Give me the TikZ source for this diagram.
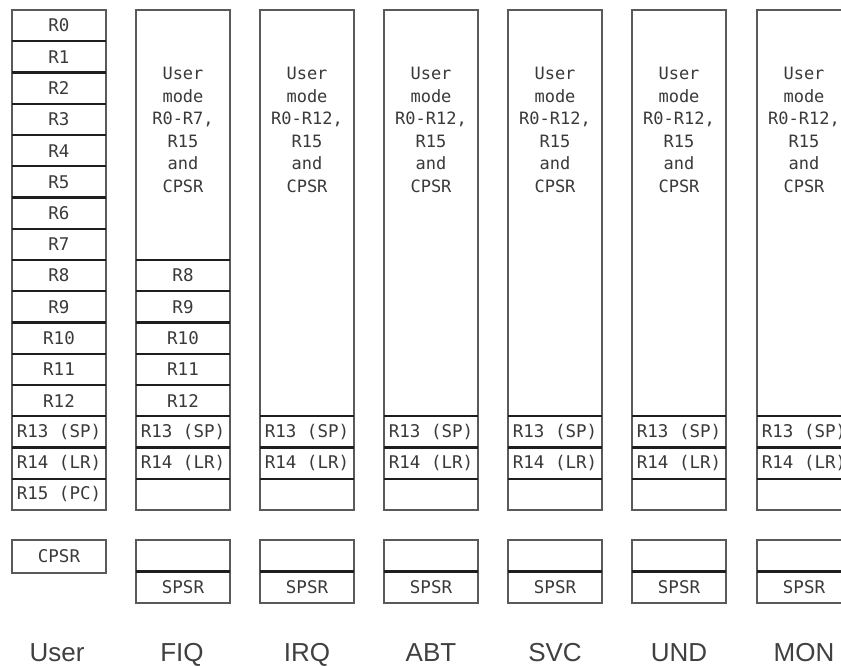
\documentclass[tikz,border=0pt]{standalone}
\usepackage{fontspec}
\setmainfont{Liberation Sans}
\newfontfamily\regmono{DejaVu Sans Mono}
\definecolor{boxgray}{HTML}{5A5A5A}
\definecolor{septxt}{HTML}{1E1E1E}
\definecolor{regtxt}{HTML}{3A3A3A}
\definecolor{lbltxt}{HTML}{404040}
\tikzset{
  reg/.style={minimum width=94pt, minimum height=31.25pt, inner sep=0pt, outer sep=0pt,
    anchor=north west, font=\regmono\fontsize{17.5}{20}\selectfont, text=regtxt},
  colbox/.style={draw=boxgray, line width=1.3pt},
  sep/.style={draw=septxt, line width=2.2pt},
  usertxt/.style={align=center, inner sep=0pt, text=regtxt,
    font=\regmono\fontsize{17}{22.5}\selectfont},
  modelbl/.style={anchor=base, inner sep=0pt, text=lbltxt, font=\fontsize{26}{30}\selectfont}
}
\begin{document}
\begin{tikzpicture}[x=1pt,y=-1pt]
\clip (0,0) rectangle (841,666);
\fill[white] (0,0) rectangle (841,666);
% ---------- User ----------
\foreach \i in {0,...,12}{\node[reg] (u\i) at (12,{10+31.25*\i}) {R\i};}
\node[reg] (u13) at (12,416.25) {R13 (SP)};
\node[reg] (u14) at (12,447.5) {R14 (LR)};
\node[reg] (u15) at (12,478.75) {R15 (PC)};
\draw[colbox] (u0.north west) rectangle (u15.south east);
\foreach \i in {0,...,14}{\draw[sep] (u\i.south west) -- (u\i.south east);}
\node[reg, minimum height=33pt] (ucpsr) at (12,540) {CPSR};
\draw[colbox] (ucpsr.north west) rectangle (ucpsr.south east);
\node[modelbl] (ulbl) at (57,661) {User};
% ---------- FIQ ----------
\node[reg, minimum height=250pt] (ftop) at (136,10) {};
\node[usertxt] (ftxt) at (183,130) {User\\mode\\R0-R7,\\R15\\and\\CPSR};
\foreach \i [count=\j from 0] in {8,...,12}{\node[reg] (f\i) at (136,{260+31.25*\j}) {R\i};}
\node[reg] (f13) at (136,416.25) {R13 (SP)};
\node[reg] (f14) at (136,447.5) {R14 (LR)};
\node[reg] (f15) at (136,478.75) {};
\draw[colbox] (ftop.north west) rectangle (f15.south east);
\foreach \i in {top,8,9,10,11,12,13,14}{\draw[sep] (f\i.south west) -- (f\i.south east);}
\node[reg, minimum height=31.5pt] (fsp0) at (136,540) {};
\node[reg, minimum height=31.5pt] (fspsr) at (136,571.5) {SPSR};
\draw[colbox] (fsp0.north west) rectangle (fspsr.south east);
\draw[sep] (fsp0.south west) -- (fsp0.south east);
\node[modelbl] (flbl) at (182,661) {FIQ};
% ---------- other modes ----------
\foreach \n/\t/\x in {i/IRQ/260, a/ABT/384, s/SVC/508, d/UND/632, m/MON/757}{
  \node[reg, minimum height=406.25pt] (\n-top) at (\x,10) {};
  \node[usertxt] (\n-txt) at ({\x+47},130) {User\\mode\\R0-R12,\\R15\\and\\CPSR};
  \node[reg] (\n-13) at (\x,416.25) {R13 (SP)};
  \node[reg] (\n-14) at (\x,447.5) {R14 (LR)};
  \node[reg] (\n-15) at (\x,478.75) {};
  \draw[colbox] (\n-top.north west) rectangle (\n-15.south east);
  \draw[sep] (\n-top.south west) -- (\n-top.south east);
  \draw[sep] (\n-13.south west) -- (\n-13.south east);
  \draw[sep] (\n-14.south west) -- (\n-14.south east);
  \node[reg, minimum height=31.5pt] (\n-sp0) at (\x,540) {};
  \node[reg, minimum height=31.5pt] (\n-spsr) at (\x,571.5) {SPSR};
  \draw[colbox] (\n-sp0.north west) rectangle (\n-spsr.south east);
  \draw[sep] (\n-sp0.south west) -- (\n-sp0.south east);
  \node[modelbl] (\n-lbl) at ({\x+47},661) {\t};
}
\end{tikzpicture}
\end{document}
